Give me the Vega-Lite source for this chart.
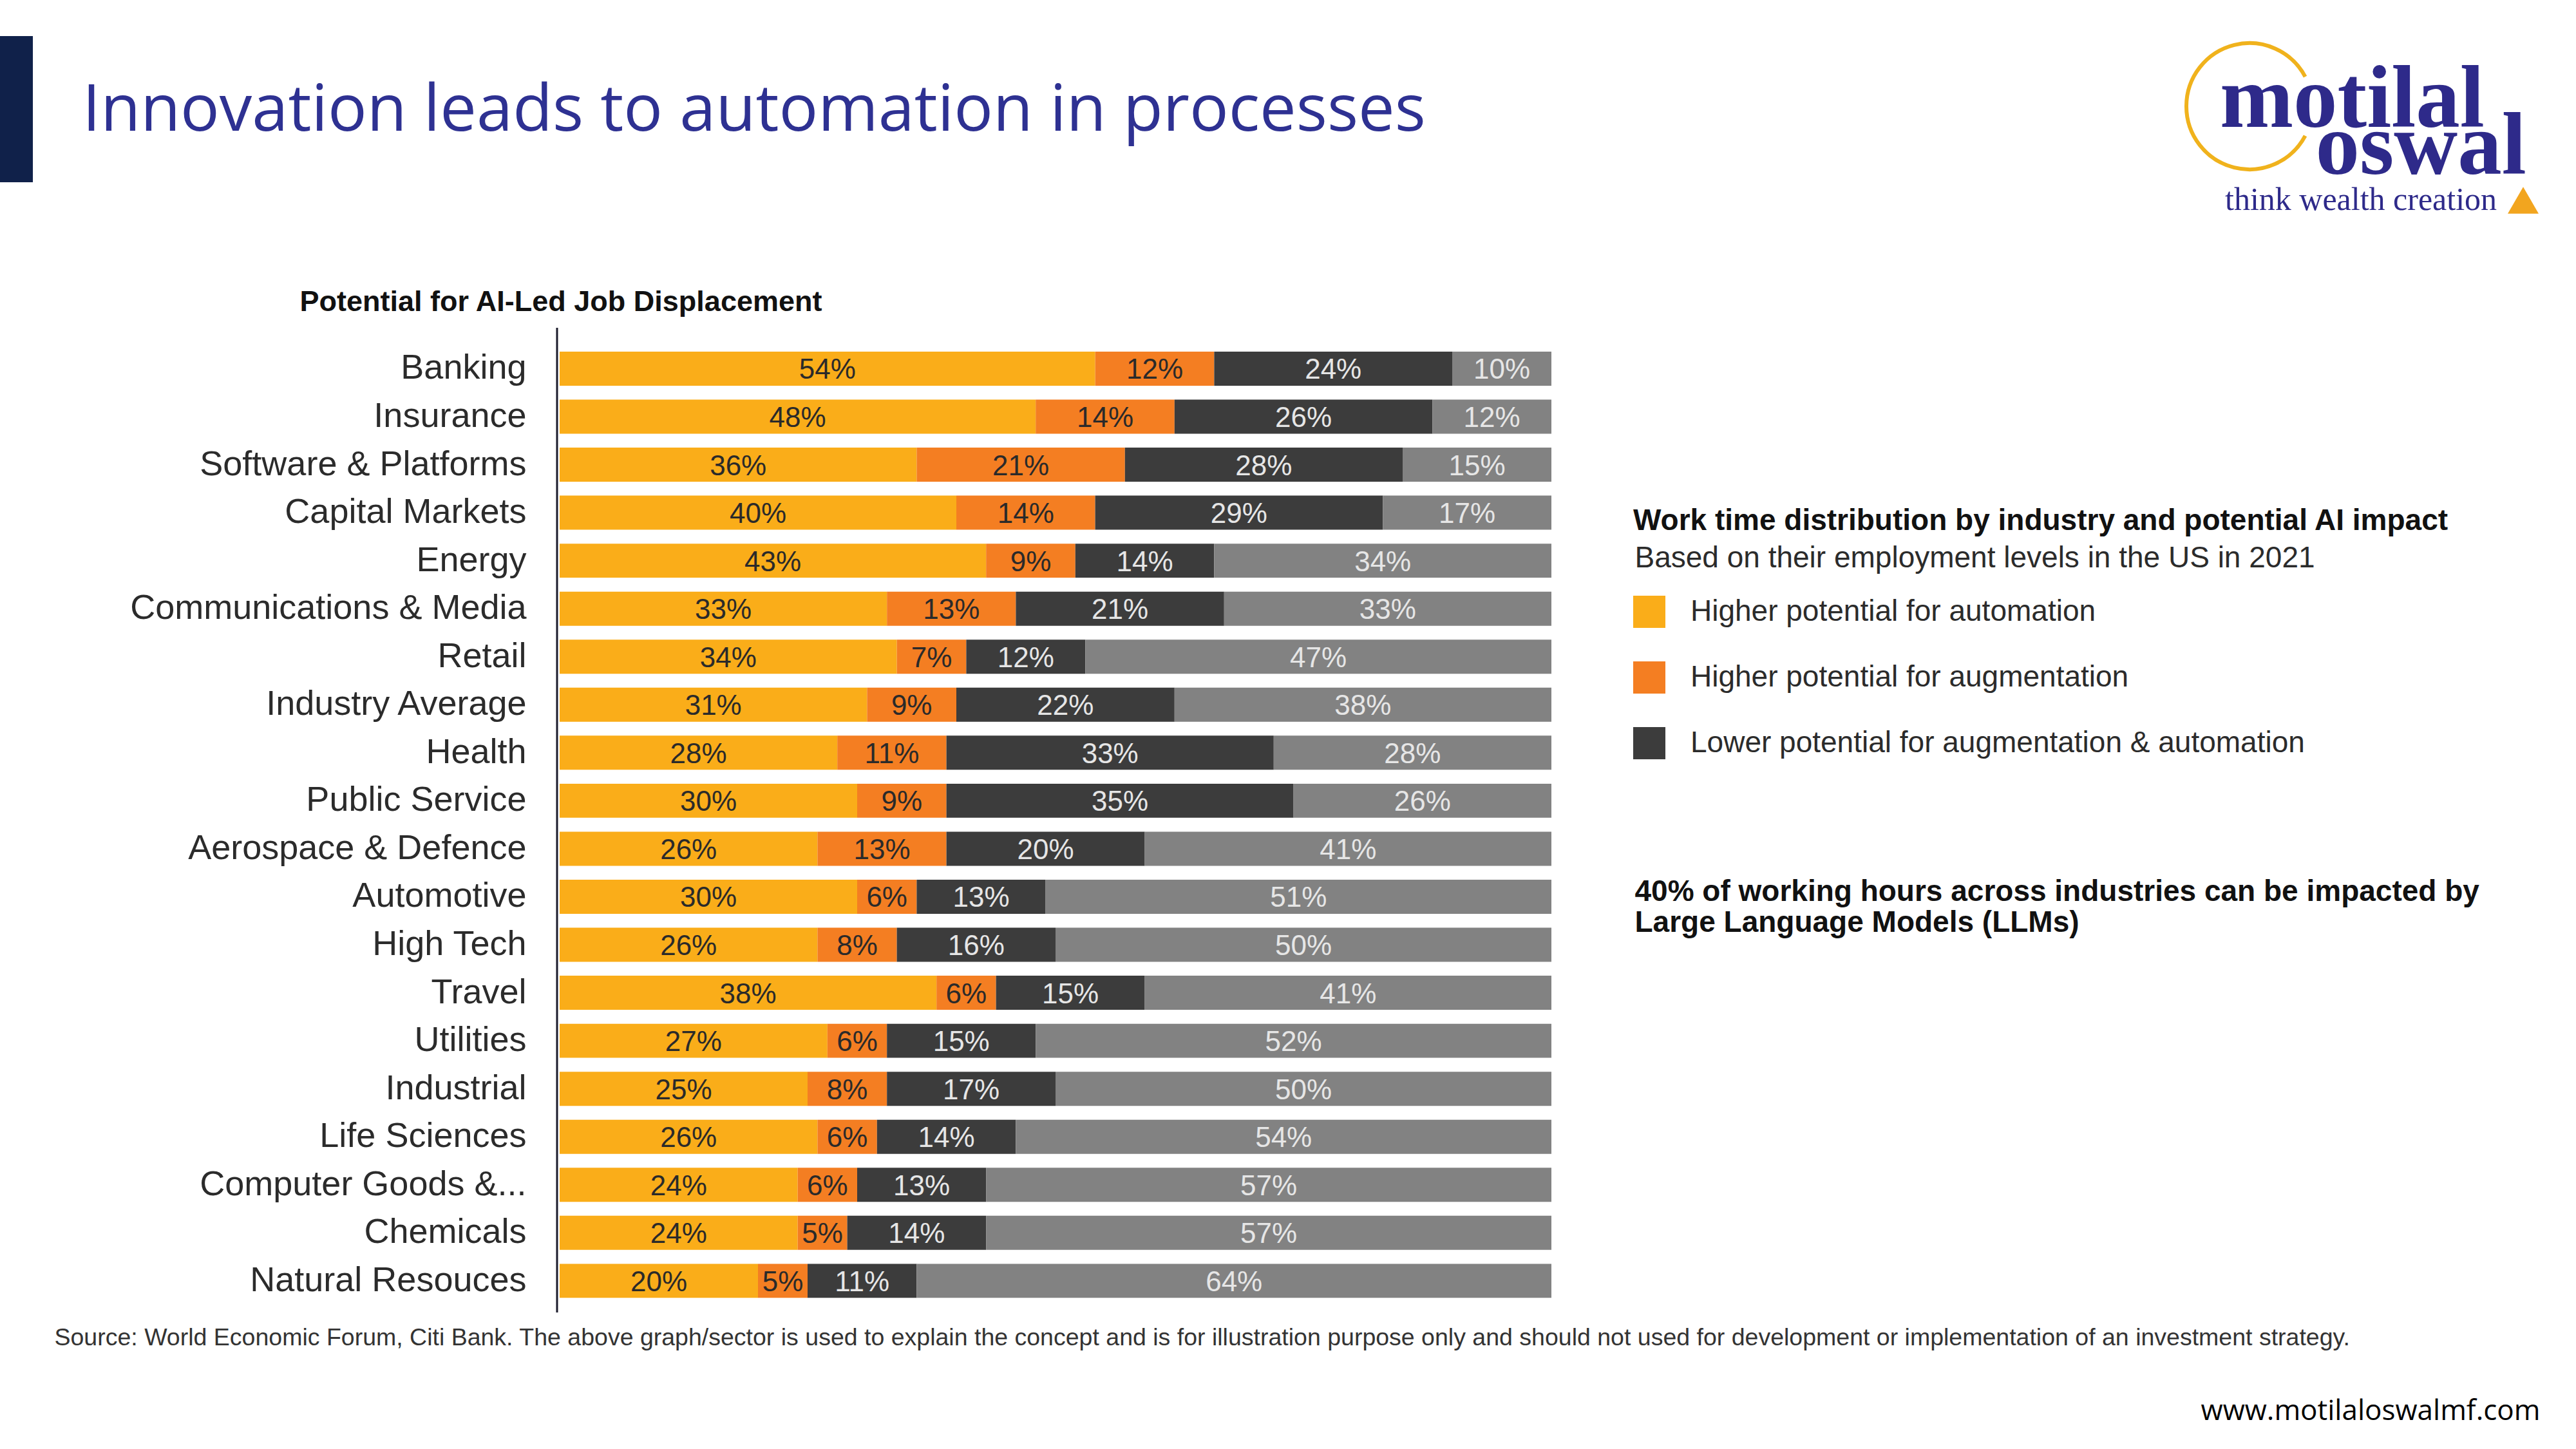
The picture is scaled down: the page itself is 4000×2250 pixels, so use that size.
{
  "$schema": "https://vega.github.io/schema/vega-lite/v6.json",
  "description": "Potential for AI-led job displacement by industry",
  "autosize": "none",
  "width": 1540,
  "height": 1529,
  "padding": {"left": 869, "top": 509, "right": 1591, "bottom": 212},
  "background": "white",
  "title": {
    "text": "Innovation leads to automation in processes",
    "anchor": "start",
    "frame": "group",
    "baseline": "top",
    "dx": -741,
    "dy": 168,
    "offset": 0,
    "font": "Open Sans",
    "fontSize": 101,
    "fontWeight": "normal",
    "color": "#2E3192"
  },
  "data": {
    "values": [
      {"industry": "Banking", "category": "Higher potential for automation", "value": 0.54},
      {"industry": "Banking", "category": "Higher potential for augmentation", "value": 0.12},
      {"industry": "Banking", "category": "Lower potential for augmentation & automation", "value": 0.24},
      {"industry": "Banking", "category": "Non-language tasks", "value": 0.10},
      {"industry": "Insurance", "category": "Higher potential for automation", "value": 0.48},
      {"industry": "Insurance", "category": "Higher potential for augmentation", "value": 0.14},
      {"industry": "Insurance", "category": "Lower potential for augmentation & automation", "value": 0.26},
      {"industry": "Insurance", "category": "Non-language tasks", "value": 0.12},
      {"industry": "Software & Platforms", "category": "Higher potential for automation", "value": 0.36},
      {"industry": "Software & Platforms", "category": "Higher potential for augmentation", "value": 0.21},
      {"industry": "Software & Platforms", "category": "Lower potential for augmentation & automation", "value": 0.28},
      {"industry": "Software & Platforms", "category": "Non-language tasks", "value": 0.15},
      {"industry": "Capital Markets", "category": "Higher potential for automation", "value": 0.40},
      {"industry": "Capital Markets", "category": "Higher potential for augmentation", "value": 0.14},
      {"industry": "Capital Markets", "category": "Lower potential for augmentation & automation", "value": 0.29},
      {"industry": "Capital Markets", "category": "Non-language tasks", "value": 0.17},
      {"industry": "Energy", "category": "Higher potential for automation", "value": 0.43},
      {"industry": "Energy", "category": "Higher potential for augmentation", "value": 0.09},
      {"industry": "Energy", "category": "Lower potential for augmentation & automation", "value": 0.14},
      {"industry": "Energy", "category": "Non-language tasks", "value": 0.34},
      {"industry": "Communications & Media", "category": "Higher potential for automation", "value": 0.33},
      {"industry": "Communications & Media", "category": "Higher potential for augmentation", "value": 0.13},
      {"industry": "Communications & Media", "category": "Lower potential for augmentation & automation", "value": 0.21},
      {"industry": "Communications & Media", "category": "Non-language tasks", "value": 0.33},
      {"industry": "Retail", "category": "Higher potential for automation", "value": 0.34},
      {"industry": "Retail", "category": "Higher potential for augmentation", "value": 0.07},
      {"industry": "Retail", "category": "Lower potential for augmentation & automation", "value": 0.12},
      {"industry": "Retail", "category": "Non-language tasks", "value": 0.47},
      {"industry": "Industry Average", "category": "Higher potential for automation", "value": 0.31},
      {"industry": "Industry Average", "category": "Higher potential for augmentation", "value": 0.09},
      {"industry": "Industry Average", "category": "Lower potential for augmentation & automation", "value": 0.22},
      {"industry": "Industry Average", "category": "Non-language tasks", "value": 0.38},
      {"industry": "Health", "category": "Higher potential for automation", "value": 0.28},
      {"industry": "Health", "category": "Higher potential for augmentation", "value": 0.11},
      {"industry": "Health", "category": "Lower potential for augmentation & automation", "value": 0.33},
      {"industry": "Health", "category": "Non-language tasks", "value": 0.28},
      {"industry": "Public Service", "category": "Higher potential for automation", "value": 0.30},
      {"industry": "Public Service", "category": "Higher potential for augmentation", "value": 0.09},
      {"industry": "Public Service", "category": "Lower potential for augmentation & automation", "value": 0.35},
      {"industry": "Public Service", "category": "Non-language tasks", "value": 0.26},
      {"industry": "Aerospace & Defence", "category": "Higher potential for automation", "value": 0.26},
      {"industry": "Aerospace & Defence", "category": "Higher potential for augmentation", "value": 0.13},
      {"industry": "Aerospace & Defence", "category": "Lower potential for augmentation & automation", "value": 0.20},
      {"industry": "Aerospace & Defence", "category": "Non-language tasks", "value": 0.41},
      {"industry": "Automotive", "category": "Higher potential for automation", "value": 0.30},
      {"industry": "Automotive", "category": "Higher potential for augmentation", "value": 0.06},
      {"industry": "Automotive", "category": "Lower potential for augmentation & automation", "value": 0.13},
      {"industry": "Automotive", "category": "Non-language tasks", "value": 0.51},
      {"industry": "High Tech", "category": "Higher potential for automation", "value": 0.26},
      {"industry": "High Tech", "category": "Higher potential for augmentation", "value": 0.08},
      {"industry": "High Tech", "category": "Lower potential for augmentation & automation", "value": 0.16},
      {"industry": "High Tech", "category": "Non-language tasks", "value": 0.50},
      {"industry": "Travel", "category": "Higher potential for automation", "value": 0.38},
      {"industry": "Travel", "category": "Higher potential for augmentation", "value": 0.06},
      {"industry": "Travel", "category": "Lower potential for augmentation & automation", "value": 0.15},
      {"industry": "Travel", "category": "Non-language tasks", "value": 0.41},
      {"industry": "Utilities", "category": "Higher potential for automation", "value": 0.27},
      {"industry": "Utilities", "category": "Higher potential for augmentation", "value": 0.06},
      {"industry": "Utilities", "category": "Lower potential for augmentation & automation", "value": 0.15},
      {"industry": "Utilities", "category": "Non-language tasks", "value": 0.52},
      {"industry": "Industrial", "category": "Higher potential for automation", "value": 0.25},
      {"industry": "Industrial", "category": "Higher potential for augmentation", "value": 0.08},
      {"industry": "Industrial", "category": "Lower potential for augmentation & automation", "value": 0.17},
      {"industry": "Industrial", "category": "Non-language tasks", "value": 0.50},
      {"industry": "Life Sciences", "category": "Higher potential for automation", "value": 0.26},
      {"industry": "Life Sciences", "category": "Higher potential for augmentation", "value": 0.06},
      {"industry": "Life Sciences", "category": "Lower potential for augmentation & automation", "value": 0.14},
      {"industry": "Life Sciences", "category": "Non-language tasks", "value": 0.54},
      {"industry": "Computer Goods &...", "category": "Higher potential for automation", "value": 0.24},
      {"industry": "Computer Goods &...", "category": "Higher potential for augmentation", "value": 0.06},
      {"industry": "Computer Goods &...", "category": "Lower potential for augmentation & automation", "value": 0.13},
      {"industry": "Computer Goods &...", "category": "Non-language tasks", "value": 0.57},
      {"industry": "Chemicals", "category": "Higher potential for automation", "value": 0.24},
      {"industry": "Chemicals", "category": "Higher potential for augmentation", "value": 0.05},
      {"industry": "Chemicals", "category": "Lower potential for augmentation & automation", "value": 0.14},
      {"industry": "Chemicals", "category": "Non-language tasks", "value": 0.57},
      {"industry": "Natural Resouces", "category": "Higher potential for automation", "value": 0.20},
      {"industry": "Natural Resouces", "category": "Higher potential for augmentation", "value": 0.05},
      {"industry": "Natural Resouces", "category": "Lower potential for augmentation & automation", "value": 0.11},
      {"industry": "Natural Resouces", "category": "Non-language tasks", "value": 0.64}
    ]
  },
  "transform": [
    {"window": [{"op": "row_number", "as": "seg"}], "groupby": ["industry"]}
  ],
  "layer": [
    {
      "mark": {"type": "bar"},
      "encoding": {
        "x": {
          "field": "value",
          "type": "quantitative",
          "stack": "zero",
          "scale": {"domain": [0, 1], "nice": false},
          "axis": {
            "orient": "bottom",
            "domain": false,
            "ticks": false,
            "labels": false,
            "grid": false,
            "title": "Source: World Economic Forum, Citi Bank. The above graph/sector is used to explain the concept and is for illustration purpose only and should not used for development or implementation of an investment strategy.",
            "titleX": -785,
            "titleY": 50,
            "titleAngle": 0,
            "titleAlign": "left",
            "titleBaseline": "alphabetic",
            "titleFont": "Liberation Sans",
            "titleFontSize": 37.5,
            "titleFontWeight": "normal",
            "titleColor": "#333333",
            "titleLimit": 5000
          }
        },
        "y": {
          "field": "industry",
          "type": "nominal",
          "sort": null,
          "scale": {"paddingInner": 0.29, "paddingOuter": 0.4, "align": 0.62},
          "axis": {
            "orient": "left",
            "domain": false,
            "ticks": false,
            "tickSize": 0,
            "grid": false,
            "labelPadding": 52,
            "labelFont": "Liberation Sans",
            "labelFontSize": 54,
            "labelColor": "#2b2b2b",
            "labelLimit": 1500,
            "title": "Potential for AI-Led Job Displacement",
            "titleX": -404,
            "titleY": -27,
            "titleAngle": 0,
            "titleAlign": "left",
            "titleBaseline": "alphabetic",
            "titleFont": "Liberation Sans",
            "titleFontSize": 45,
            "titleFontWeight": "bold",
            "titleColor": "#111111",
            "titleLimit": 3000
          }
        },
        "color": {
          "field": "category",
          "type": "nominal",
          "scale": {
            "domain": [
              "Higher potential for automation",
              "Higher potential for augmentation",
              "Lower potential for augmentation & automation",
              "Non-language tasks"
            ],
            "range": ["#FAAD19", "#F47E22", "#3C3C3C", "#828282"]
          },
          "legend": {
            "orient": "none",
            "legendX": 1667,
            "legendY": 278,
            "padding": 0,
            "values": [
              "Higher potential for automation",
              "Higher potential for augmentation",
              "Lower potential for augmentation & automation"
            ],
            "title": "Work time distribution by industry and potential AI impact",
            "titleFont": "Liberation Sans",
            "titleFontSize": 46,
            "titleFontWeight": "bold",
            "titleColor": "#111111",
            "titleLimit": 3000,
            "titlePadding": 92,
            "symbolType": "square",
            "symbolSize": 2500,
            "symbolStrokeWidth": 0,
            "symbolOpacity": 1,
            "rowPadding": 52,
            "labelOffset": 39,
            "labelFont": "Liberation Sans",
            "labelFontSize": 46,
            "labelColor": "#2b2b2b",
            "labelLimit": 3000
          }
        },
        "strokeDash": {
          "datum": "",
          "type": "nominal",
          "scale": {"range": [[1, 0]]},
          "legend": {
            "orient": "none",
            "legendX": -869,
            "legendY": -453,
            "padding": 0,
            "title": null,
            "symbolType": "M-0.225,-1H0.225V1H-0.225Z",
            "symbolSize": 51529,
            "symbolOffset": -88,
            "symbolFillColor": "#10214A",
            "symbolStrokeColor": "#10214A",
            "symbolStrokeWidth": 0,
            "symbolOpacity": 1,
            "labelFontSize": 10
          }
        },
        "strokeWidth": {
          "datum": 6,
          "type": "quantitative",
          "scale": {"domain": [0, 10], "range": [0, 10]},
          "legend": {
            "orient": "none",
            "legendX": 2523,
            "legendY": -445,
            "padding": 0,
            "title": null,
            "values": [6],
            "labelExpr": "''",
            "symbolType": "M0.883,-0.469A1,1,0,1,0,0.883,0.469",
            "symbolSize": 38416,
            "symbolOffset": 0,
            "symbolFillColor": "transparent",
            "symbolStrokeColor": "#F0B21C",
            "symbolOpacity": 1,
            "labelFontSize": 10
          }
        },
        "order": {"field": "seg", "type": "quantitative"}
      }
    },
    {
      "mark": {"type": "text", "font": "Liberation Sans", "fontSize": 44, "baseline": "middle", "dy": 3},
      "encoding": {
        "x": {
          "field": "value",
          "type": "quantitative",
          "stack": "zero",
          "bandPosition": 0.5,
          "axis": {
            "orient": "top",
            "domain": false,
            "ticks": false,
            "labels": false,
            "grid": false,
            "title": ["40% of working hours across industries can be impacted by", "Large Language Models (LLMs)"],
            "titleX": 1669,
            "titleY": 853,
            "titleAngle": 0,
            "titleAlign": "left",
            "titleBaseline": "top",
            "titleLineHeight": 48,
            "titleFont": "Liberation Sans",
            "titleFontSize": 46,
            "titleFontWeight": "bold",
            "titleColor": "#111111",
            "titleLimit": 3000
          }
        },
        "y": {
          "field": "industry",
          "type": "nominal",
          "sort": null,
          "axis": {
            "orient": "right",
            "domain": false,
            "ticks": false,
            "labels": false,
            "grid": false,
            "title": "Based on their employment levels in the US in 2021",
            "titleX": 129,
            "titleY": 371,
            "titleAngle": 0,
            "titleAlign": "left",
            "titleBaseline": "alphabetic",
            "titleFont": "Liberation Sans",
            "titleFontSize": 46,
            "titleFontWeight": "normal",
            "titleColor": "#2b2b2b",
            "titleLimit": 3000
          }
        },
        "detail": {"field": "category", "type": "nominal"},
        "order": {"field": "seg", "type": "quantitative"},
        "text": {"field": "value", "type": "quantitative", "format": ".0%"},
        "color": {
          "condition": {
            "test": "datum.category === 'Higher potential for automation' || datum.category === 'Higher potential for augmentation'",
            "value": "#2a2a2a"
          },
          "value": "#e6e6e6"
        }
      }
    },
    {
      "data": {"values": [{}]},
      "mark": {"type": "rule", "color": "#1c1c2c", "strokeWidth": 3, "xOffset": -4, "fill": "#F2A51F"},
      "encoding": {
        "x": {
          "datum": 0,
          "type": "quantitative",
          "axis": {
            "orient": "bottom",
            "domain": false,
            "ticks": false,
            "labels": false,
            "grid": false,
            "title": "www.motilaloswalmf.com",
            "titleX": 3075,
            "titleY": 166,
            "titleAngle": 0,
            "titleAlign": "right",
            "titleBaseline": "alphabetic",
            "titleFont": "Open Sans",
            "titleFontSize": 44,
            "titleFontWeight": "normal",
            "titleColor": "#000000",
            "titleLimit": 3000
          }
        },
        "strokeDash": {
          "datum": "think wealth creation",
          "type": "nominal",
          "scale": {"range": [[1, 0]]},
          "legend": {
            "orient": "none",
            "legendX": 2578,
            "legendY": -420,
            "padding": 0,
            "title": ["motilal", "\u200b\u00a0\u00a0\u00a0\u00a0\u200aoswal"],
            "titleFont": "Liberation Serif",
            "titleFontSize": 137,
            "titleFontWeight": "bold",
            "titleLineHeight": 73,
            "titleColor": "#2E2A8A",
            "titlePadding": -13,
            "titleLimit": 2000,
            "labelFont": "Liberation Serif",
            "labelFontSize": 50,
            "labelColor": "#2E2A8A",
            "labelOffset": -488,
            "labelLimit": 2000,
            "symbolType": "triangle-up",
            "symbolSize": 2300,
            "symbolOffset": 446,
            "symbolFillColor": "#F2A51F",
            "symbolStrokeColor": "#F2A51F",
            "symbolStrokeWidth": 0
          }
        }
      }
    }
  ],
  "resolve": {
    "axis": {"x": "independent", "y": "independent"},
    "scale": {"strokeDash": "independent"},
    "legend": {"strokeDash": "independent"}
  },
  "config": {
    "view": {"stroke": null},
    "axis": {"grid": false},
    "font": "Liberation Sans"
  }
}
